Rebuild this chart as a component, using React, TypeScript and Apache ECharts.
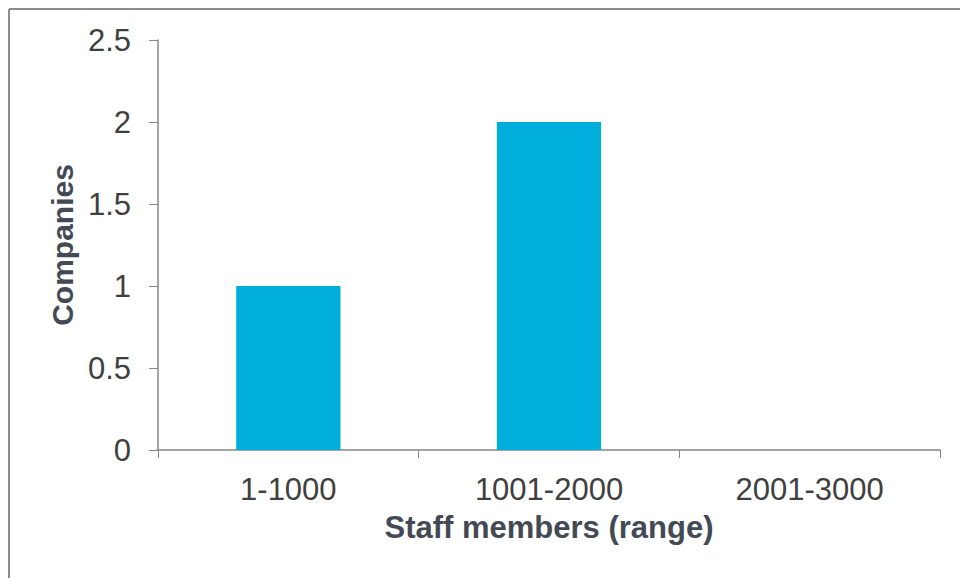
import React, { useEffect, useRef } from "react";
import * as echarts from "echarts";

const categories = ["1-1000", "1001-2000", "2001-3000"];
const companies = [1, 2, 0];
const yTicks = { min: 0, max: 2.5, interval: 0.5 };
const xTitle = "Staff members (range)";
const yTitle = "Companies";

export default function App() {
  const ref = useRef<HTMLDivElement>(null);
  useEffect(() => {
    document.body.style.margin = "0";
    const chart = echarts.init(ref.current!, null, { renderer: "svg" });
    const labelColor = "#3f3f3f";
    const titleColor = "#434a55";
    const font = "Liberation Sans, Arial";
    chart.setOption({
      animation: false,
      backgroundColor: "#ffffff",
      graphic: [
        { type: "line", shape: { x1: 9, y1: 9, x2: 960, y2: 9 }, style: { stroke: "#8c8c8c", lineWidth: 2 } },
        { type: "line", shape: { x1: 9, y1: 9, x2: 9, y2: 578 }, style: { stroke: "#8c8c8c", lineWidth: 2 } },
      ],
      grid: { left: 158, right: 20, top: 40, bottom: 128, containLabel: false },
      xAxis: {
        type: "category",
        data: categories,
        name: xTitle,
        nameLocation: "middle",
        nameGap: 62,
        nameTextStyle: { fontFamily: font, fontSize: 31, fontWeight: "bold", color: titleColor },
        axisLine: { lineStyle: { color: "#868686", width: 1.5 } },
        axisTick: { show: true, length: 8, alignWithLabel: false, lineStyle: { color: "#868686" } },
        axisLabel: { margin: 24, fontFamily: font, fontSize: 31, color: labelColor },
      },
      yAxis: {
        type: "value",
        min: yTicks.min,
        max: yTicks.max,
        interval: yTicks.interval,
        name: yTitle,
        nameLocation: "middle",
        nameGap: 80,
        nameTextStyle: { fontFamily: font, fontSize: 30, fontWeight: "bold", color: titleColor },
        axisLine: { show: true, lineStyle: { color: "#868686", width: 1.5 } },
        axisTick: { show: true, length: 9, lineStyle: { color: "#868686" } },
        splitLine: { show: false },
        axisLabel: {
          margin: 27,
          fontFamily: font,
          fontSize: 31,
          color: labelColor,
          formatter: (v: number) => String(v),
        },
      },
      series: [
        {
          type: "bar",
          data: companies,
          barWidth: "40%",
          itemStyle: { color: "#00aedb" },
        },
      ],
    });
    return () => chart.dispose();
  }, []);
  return <div ref={ref} style={{ width: 960, height: 578 }} />;
}
